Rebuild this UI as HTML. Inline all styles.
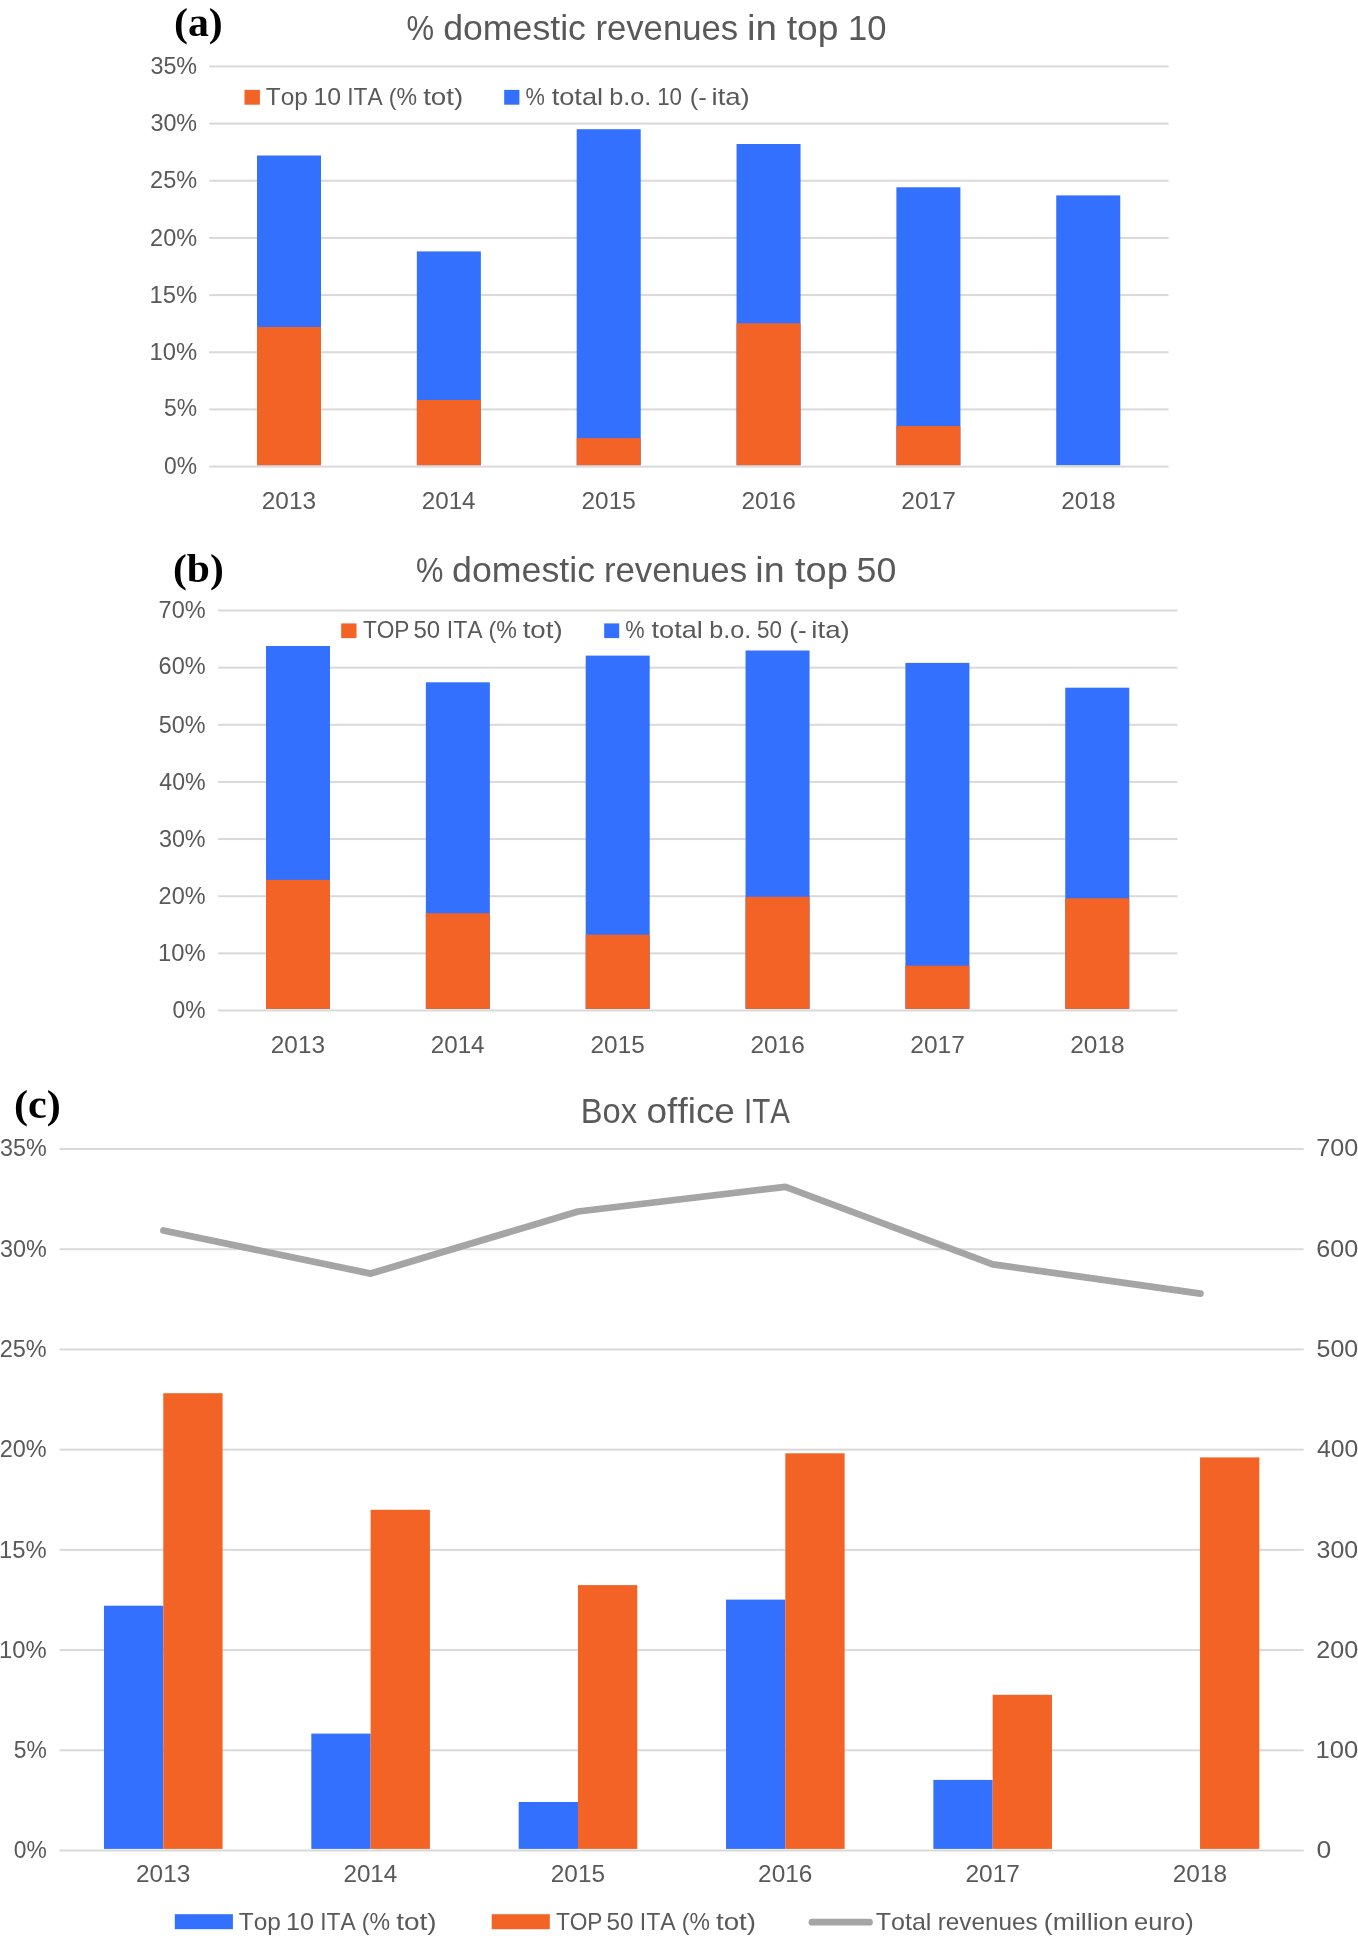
<!DOCTYPE html>
<html><head><meta charset="utf-8"><title>Box office charts</title>
<style>html,body{margin:0;padding:0;background:#fff;}svg{display:block;will-change:transform;}text{font-kerning:none;}</style>
</head><body>
<svg width="1358" height="1938" viewBox="0 0 1358 1938">
<rect width="1358" height="1938" fill="#fff"/>
<rect x="209.10" y="465.60" width="959.50" height="2" fill="#D9D9D9"/>
<text x="164.11" y="473.70" font-family='"Liberation Sans", sans-serif' font-size="24" fill="#595959" textLength="33.01" lengthAdjust="spacingAndGlyphs">0%</text>
<rect x="209.10" y="408.43" width="959.50" height="2" fill="#D9D9D9"/>
<text x="164.08" y="416.30" font-family='"Liberation Sans", sans-serif' font-size="24" fill="#595959" textLength="33.03" lengthAdjust="spacingAndGlyphs">5%</text>
<rect x="209.10" y="351.26" width="959.50" height="2" fill="#D9D9D9"/>
<text x="149.49" y="359.60" font-family='"Liberation Sans", sans-serif' font-size="24" fill="#595959" textLength="47.66" lengthAdjust="spacingAndGlyphs">10%</text>
<rect x="209.10" y="294.09" width="959.50" height="2" fill="#D9D9D9"/>
<text x="149.49" y="302.80" font-family='"Liberation Sans", sans-serif' font-size="24" fill="#595959" textLength="47.66" lengthAdjust="spacingAndGlyphs">15%</text>
<rect x="209.10" y="236.91" width="959.50" height="2" fill="#D9D9D9"/>
<text x="150.12" y="245.60" font-family='"Liberation Sans", sans-serif' font-size="24" fill="#595959" textLength="47.02" lengthAdjust="spacingAndGlyphs">20%</text>
<rect x="209.10" y="179.74" width="959.50" height="2" fill="#D9D9D9"/>
<text x="150.12" y="187.80" font-family='"Liberation Sans", sans-serif' font-size="24" fill="#595959" textLength="47.02" lengthAdjust="spacingAndGlyphs">25%</text>
<rect x="209.10" y="122.57" width="959.50" height="2" fill="#D9D9D9"/>
<text x="150.41" y="130.75" font-family='"Liberation Sans", sans-serif' font-size="24" fill="#595959" textLength="46.72" lengthAdjust="spacingAndGlyphs">30%</text>
<rect x="209.10" y="65.40" width="959.50" height="2" fill="#D9D9D9"/>
<text x="150.41" y="73.70" font-family='"Liberation Sans", sans-serif' font-size="24" fill="#595959" textLength="46.72" lengthAdjust="spacingAndGlyphs">35%</text>
<rect x="257.00" y="155.50" width="64.00" height="309.70" fill="#3370FD"/>
<rect x="257.00" y="327.00" width="64.00" height="138.20" fill="#F36326"/>
<text x="261.77" y="509.00" font-family='"Liberation Sans", sans-serif' font-size="24" fill="#595959" textLength="54.30" lengthAdjust="spacingAndGlyphs">2013</text>
<rect x="416.85" y="251.40" width="64.00" height="213.80" fill="#3370FD"/>
<rect x="416.85" y="400.00" width="64.00" height="65.20" fill="#F36326"/>
<text x="421.68" y="509.00" font-family='"Liberation Sans", sans-serif' font-size="24" fill="#595959" textLength="53.93" lengthAdjust="spacingAndGlyphs">2014</text>
<rect x="576.70" y="129.20" width="64.00" height="336.00" fill="#3370FD"/>
<rect x="576.70" y="438.10" width="64.00" height="27.10" fill="#F36326"/>
<text x="581.57" y="509.00" font-family='"Liberation Sans", sans-serif' font-size="24" fill="#595959" textLength="54.25" lengthAdjust="spacingAndGlyphs">2015</text>
<rect x="736.55" y="144.00" width="64.00" height="321.20" fill="#3370FD"/>
<rect x="736.55" y="323.30" width="64.00" height="141.90" fill="#F36326"/>
<text x="741.47" y="509.00" font-family='"Liberation Sans", sans-serif' font-size="24" fill="#595959" textLength="54.30" lengthAdjust="spacingAndGlyphs">2016</text>
<rect x="896.40" y="187.30" width="64.00" height="277.90" fill="#3370FD"/>
<rect x="896.40" y="426.00" width="64.00" height="39.20" fill="#F36326"/>
<text x="901.37" y="509.00" font-family='"Liberation Sans", sans-serif' font-size="24" fill="#595959" textLength="54.46" lengthAdjust="spacingAndGlyphs">2017</text>
<rect x="1056.25" y="195.40" width="64.00" height="269.80" fill="#3370FD"/>
<text x="1061.27" y="509.00" font-family='"Liberation Sans", sans-serif' font-size="24" fill="#595959" textLength="54.29" lengthAdjust="spacingAndGlyphs">2018</text>
<text x="173.96" y="36.00" font-family='"Liberation Serif", serif' font-weight="bold" font-size="40" fill="#000" textLength="48.78" lengthAdjust="spacingAndGlyphs">(a)</text>
<text x="406.59" y="39.80" font-family='"Liberation Sans", sans-serif' font-size="35.5" fill="#595959" textLength="27.61" lengthAdjust="spacingAndGlyphs">%</text>
<text x="443.20" y="39.80" font-family='"Liberation Sans", sans-serif' font-size="35.5" fill="#595959" textLength="142.74" lengthAdjust="spacingAndGlyphs">domestic</text>
<text x="595.40" y="39.80" font-family='"Liberation Sans", sans-serif' font-size="35.5" fill="#595959" textLength="142.76" lengthAdjust="spacingAndGlyphs">revenues</text>
<text x="746.92" y="39.80" font-family='"Liberation Sans", sans-serif' font-size="35.5" fill="#595959" textLength="29.98" lengthAdjust="spacingAndGlyphs">in</text>
<text x="786.74" y="39.80" font-family='"Liberation Sans", sans-serif' font-size="35.5" fill="#595959" textLength="51.83" lengthAdjust="spacingAndGlyphs">top</text>
<text x="848.06" y="39.80" font-family='"Liberation Sans", sans-serif' font-size="35.5" fill="#595959" textLength="38.49" lengthAdjust="spacingAndGlyphs">10</text>
<rect x="244.50" y="89.90" width="15.40" height="14.80" fill="#F36326"/>
<text x="265.75" y="105.10" font-family='"Liberation Sans", sans-serif' font-size="24" fill="#595959" textLength="42.07" lengthAdjust="spacingAndGlyphs">Top</text>
<text x="313.41" y="105.10" font-family='"Liberation Sans", sans-serif' font-size="24" fill="#595959" textLength="27.67" lengthAdjust="spacingAndGlyphs">10</text>
<text x="347.30" y="105.10" font-family='"Liberation Sans", sans-serif' font-size="24" fill="#595959" textLength="35.34" lengthAdjust="spacingAndGlyphs">ITA</text>
<text x="388.87" y="105.10" font-family='"Liberation Sans", sans-serif' font-size="24" fill="#595959" textLength="28.26" lengthAdjust="spacingAndGlyphs">(%</text>
<text x="423.18" y="105.10" font-family='"Liberation Sans", sans-serif' font-size="24" fill="#595959" textLength="40.04" lengthAdjust="spacingAndGlyphs">tot)</text>
<rect x="504.20" y="89.90" width="15.20" height="14.80" fill="#3370FD"/>
<text x="525.42" y="105.10" font-family='"Liberation Sans", sans-serif' font-size="24" fill="#595959" textLength="19.35" lengthAdjust="spacingAndGlyphs">%</text>
<text x="551.69" y="105.10" font-family='"Liberation Sans", sans-serif' font-size="24" fill="#595959" textLength="51.43" lengthAdjust="spacingAndGlyphs">total</text>
<text x="609.28" y="105.10" font-family='"Liberation Sans", sans-serif' font-size="24" fill="#595959" textLength="42.02" lengthAdjust="spacingAndGlyphs">b.o.</text>
<text x="657.20" y="105.10" font-family='"Liberation Sans", sans-serif' font-size="24" fill="#595959" textLength="24.88" lengthAdjust="spacingAndGlyphs">10</text>
<text x="689.80" y="105.10" font-family='"Liberation Sans", sans-serif' font-size="24" fill="#595959" textLength="17.14" lengthAdjust="spacingAndGlyphs">(-</text>
<text x="711.56" y="105.10" font-family='"Liberation Sans", sans-serif' font-size="24" fill="#595959" textLength="38.25" lengthAdjust="spacingAndGlyphs">ita)</text>
<rect x="218.10" y="1009.50" width="959.30" height="2" fill="#D9D9D9"/>
<text x="172.61" y="1017.60" font-family='"Liberation Sans", sans-serif' font-size="24" fill="#595959" textLength="33.01" lengthAdjust="spacingAndGlyphs">0%</text>
<rect x="218.10" y="952.36" width="959.30" height="2" fill="#D9D9D9"/>
<text x="157.99" y="960.60" font-family='"Liberation Sans", sans-serif' font-size="24" fill="#595959" textLength="47.66" lengthAdjust="spacingAndGlyphs">10%</text>
<rect x="218.10" y="895.21" width="959.30" height="2" fill="#D9D9D9"/>
<text x="158.62" y="903.50" font-family='"Liberation Sans", sans-serif' font-size="24" fill="#595959" textLength="47.02" lengthAdjust="spacingAndGlyphs">20%</text>
<rect x="218.10" y="838.07" width="959.30" height="2" fill="#D9D9D9"/>
<text x="158.91" y="846.50" font-family='"Liberation Sans", sans-serif' font-size="24" fill="#595959" textLength="46.72" lengthAdjust="spacingAndGlyphs">30%</text>
<rect x="218.10" y="780.93" width="959.30" height="2" fill="#D9D9D9"/>
<text x="159.27" y="789.50" font-family='"Liberation Sans", sans-serif' font-size="24" fill="#595959" textLength="46.36" lengthAdjust="spacingAndGlyphs">40%</text>
<rect x="218.10" y="723.79" width="959.30" height="2" fill="#D9D9D9"/>
<text x="158.86" y="732.70" font-family='"Liberation Sans", sans-serif' font-size="24" fill="#595959" textLength="46.77" lengthAdjust="spacingAndGlyphs">50%</text>
<rect x="218.10" y="666.64" width="959.30" height="2" fill="#D9D9D9"/>
<text x="158.61" y="674.45" font-family='"Liberation Sans", sans-serif' font-size="24" fill="#595959" textLength="47.03" lengthAdjust="spacingAndGlyphs">60%</text>
<rect x="218.10" y="609.50" width="959.30" height="2" fill="#D9D9D9"/>
<text x="158.59" y="617.60" font-family='"Liberation Sans", sans-serif' font-size="24" fill="#595959" textLength="47.04" lengthAdjust="spacingAndGlyphs">70%</text>
<rect x="266.00" y="646.00" width="64.00" height="362.90" fill="#3370FD"/>
<rect x="266.00" y="879.90" width="64.00" height="129.00" fill="#F36326"/>
<text x="270.77" y="1053.00" font-family='"Liberation Sans", sans-serif' font-size="24" fill="#595959" textLength="54.30" lengthAdjust="spacingAndGlyphs">2013</text>
<rect x="425.85" y="682.30" width="64.00" height="326.60" fill="#3370FD"/>
<rect x="425.85" y="913.20" width="64.00" height="95.70" fill="#F36326"/>
<text x="430.68" y="1053.00" font-family='"Liberation Sans", sans-serif' font-size="24" fill="#595959" textLength="53.93" lengthAdjust="spacingAndGlyphs">2014</text>
<rect x="585.70" y="655.60" width="64.00" height="353.30" fill="#3370FD"/>
<rect x="585.70" y="934.70" width="64.00" height="74.20" fill="#F36326"/>
<text x="590.57" y="1053.00" font-family='"Liberation Sans", sans-serif' font-size="24" fill="#595959" textLength="54.25" lengthAdjust="spacingAndGlyphs">2015</text>
<rect x="745.55" y="650.50" width="64.00" height="358.40" fill="#3370FD"/>
<rect x="745.55" y="896.80" width="64.00" height="112.10" fill="#F36326"/>
<text x="750.47" y="1053.00" font-family='"Liberation Sans", sans-serif' font-size="24" fill="#595959" textLength="54.30" lengthAdjust="spacingAndGlyphs">2016</text>
<rect x="905.40" y="662.90" width="64.00" height="346.00" fill="#3370FD"/>
<rect x="905.40" y="965.70" width="64.00" height="43.20" fill="#F36326"/>
<text x="910.37" y="1053.00" font-family='"Liberation Sans", sans-serif' font-size="24" fill="#595959" textLength="54.46" lengthAdjust="spacingAndGlyphs">2017</text>
<rect x="1065.25" y="687.70" width="64.00" height="321.20" fill="#3370FD"/>
<rect x="1065.25" y="898.30" width="64.00" height="110.60" fill="#F36326"/>
<text x="1070.27" y="1053.00" font-family='"Liberation Sans", sans-serif' font-size="24" fill="#595959" textLength="54.29" lengthAdjust="spacingAndGlyphs">2018</text>
<text x="172.97" y="582.00" font-family='"Liberation Serif", serif' font-weight="bold" font-size="40" fill="#000" textLength="50.86" lengthAdjust="spacingAndGlyphs">(b)</text>
<text x="415.90" y="582.00" font-family='"Liberation Sans", sans-serif' font-size="35.5" fill="#595959" textLength="27.40" lengthAdjust="spacingAndGlyphs">%</text>
<text x="452.10" y="582.00" font-family='"Liberation Sans", sans-serif' font-size="35.5" fill="#595959" textLength="142.94" lengthAdjust="spacingAndGlyphs">domestic</text>
<text x="603.89" y="582.00" font-family='"Liberation Sans", sans-serif' font-size="35.5" fill="#595959" textLength="143.17" lengthAdjust="spacingAndGlyphs">revenues</text>
<text x="755.39" y="582.00" font-family='"Liberation Sans", sans-serif' font-size="35.5" fill="#595959" textLength="29.26" lengthAdjust="spacingAndGlyphs">in</text>
<text x="794.92" y="582.00" font-family='"Liberation Sans", sans-serif' font-size="35.5" fill="#595959" textLength="52.98" lengthAdjust="spacingAndGlyphs">top</text>
<text x="856.57" y="582.00" font-family='"Liberation Sans", sans-serif' font-size="35.5" fill="#595959" textLength="39.73" lengthAdjust="spacingAndGlyphs">50</text>
<rect x="341.20" y="623.40" width="15.30" height="14.70" fill="#F36326"/>
<text x="362.89" y="638.20" font-family='"Liberation Sans", sans-serif' font-size="24" fill="#595959" textLength="46.60" lengthAdjust="spacingAndGlyphs">TOP</text>
<text x="413.44" y="638.20" font-family='"Liberation Sans", sans-serif' font-size="24" fill="#595959" textLength="26.70" lengthAdjust="spacingAndGlyphs">50</text>
<text x="446.78" y="638.20" font-family='"Liberation Sans", sans-serif' font-size="24" fill="#595959" textLength="35.77" lengthAdjust="spacingAndGlyphs">ITA</text>
<text x="488.46" y="638.20" font-family='"Liberation Sans", sans-serif' font-size="24" fill="#595959" textLength="28.37" lengthAdjust="spacingAndGlyphs">(%</text>
<text x="522.68" y="638.20" font-family='"Liberation Sans", sans-serif' font-size="24" fill="#595959" textLength="39.93" lengthAdjust="spacingAndGlyphs">tot)</text>
<rect x="604.20" y="623.40" width="15.00" height="14.70" fill="#3370FD"/>
<text x="625.32" y="638.20" font-family='"Liberation Sans", sans-serif' font-size="24" fill="#595959" textLength="19.35" lengthAdjust="spacingAndGlyphs">%</text>
<text x="651.59" y="638.20" font-family='"Liberation Sans", sans-serif' font-size="24" fill="#595959" textLength="51.12" lengthAdjust="spacingAndGlyphs">total</text>
<text x="709.18" y="638.20" font-family='"Liberation Sans", sans-serif' font-size="24" fill="#595959" textLength="42.02" lengthAdjust="spacingAndGlyphs">b.o.</text>
<text x="757.00" y="638.20" font-family='"Liberation Sans", sans-serif' font-size="24" fill="#595959" textLength="24.98" lengthAdjust="spacingAndGlyphs">50</text>
<text x="789.27" y="638.20" font-family='"Liberation Sans", sans-serif' font-size="24" fill="#595959" textLength="17.50" lengthAdjust="spacingAndGlyphs">(-</text>
<text x="811.35" y="638.20" font-family='"Liberation Sans", sans-serif' font-size="24" fill="#595959" textLength="38.36" lengthAdjust="spacingAndGlyphs">ita)</text>
<rect x="59.60" y="1849.50" width="1244.10" height="2" fill="#D9D9D9"/>
<text x="13.71" y="1857.70" font-family='"Liberation Sans", sans-serif' font-size="24" fill="#595959" textLength="33.01" lengthAdjust="spacingAndGlyphs">0%</text>
<text x="1316.46" y="1857.70" font-family='"Liberation Sans", sans-serif' font-size="24" fill="#595959" textLength="14.78" lengthAdjust="spacingAndGlyphs">0</text>
<rect x="59.60" y="1749.29" width="1244.10" height="2" fill="#D9D9D9"/>
<text x="13.68" y="1757.80" font-family='"Liberation Sans", sans-serif' font-size="24" fill="#595959" textLength="33.03" lengthAdjust="spacingAndGlyphs">5%</text>
<text x="1315.55" y="1757.80" font-family='"Liberation Sans", sans-serif' font-size="24" fill="#595959" textLength="42.65" lengthAdjust="spacingAndGlyphs">100</text>
<rect x="59.60" y="1649.07" width="1244.10" height="2" fill="#D9D9D9"/>
<text x="-0.91" y="1657.80" font-family='"Liberation Sans", sans-serif' font-size="24" fill="#595959" textLength="47.66" lengthAdjust="spacingAndGlyphs">10%</text>
<text x="1316.24" y="1657.80" font-family='"Liberation Sans", sans-serif' font-size="24" fill="#595959" textLength="41.95" lengthAdjust="spacingAndGlyphs">200</text>
<rect x="59.60" y="1548.86" width="1244.10" height="2" fill="#D9D9D9"/>
<text x="-0.91" y="1557.80" font-family='"Liberation Sans", sans-serif' font-size="24" fill="#595959" textLength="47.66" lengthAdjust="spacingAndGlyphs">15%</text>
<text x="1316.55" y="1557.80" font-family='"Liberation Sans", sans-serif' font-size="24" fill="#595959" textLength="41.62" lengthAdjust="spacingAndGlyphs">300</text>
<rect x="59.60" y="1448.64" width="1244.10" height="2" fill="#D9D9D9"/>
<text x="-0.28" y="1456.70" font-family='"Liberation Sans", sans-serif' font-size="24" fill="#595959" textLength="47.02" lengthAdjust="spacingAndGlyphs">20%</text>
<text x="1316.93" y="1456.70" font-family='"Liberation Sans", sans-serif' font-size="24" fill="#595959" textLength="41.23" lengthAdjust="spacingAndGlyphs">400</text>
<rect x="59.60" y="1348.43" width="1244.10" height="2" fill="#D9D9D9"/>
<text x="-0.28" y="1356.70" font-family='"Liberation Sans", sans-serif' font-size="24" fill="#595959" textLength="47.02" lengthAdjust="spacingAndGlyphs">25%</text>
<text x="1316.50" y="1356.70" font-family='"Liberation Sans", sans-serif' font-size="24" fill="#595959" textLength="41.68" lengthAdjust="spacingAndGlyphs">500</text>
<rect x="59.60" y="1248.21" width="1244.10" height="2" fill="#D9D9D9"/>
<text x="0.01" y="1256.70" font-family='"Liberation Sans", sans-serif' font-size="24" fill="#595959" textLength="46.72" lengthAdjust="spacingAndGlyphs">30%</text>
<text x="1316.22" y="1256.70" font-family='"Liberation Sans", sans-serif' font-size="24" fill="#595959" textLength="41.96" lengthAdjust="spacingAndGlyphs">600</text>
<rect x="59.60" y="1148.00" width="1244.10" height="2" fill="#D9D9D9"/>
<text x="0.01" y="1155.60" font-family='"Liberation Sans", sans-serif' font-size="24" fill="#595959" textLength="46.72" lengthAdjust="spacingAndGlyphs">35%</text>
<text x="1316.21" y="1155.60" font-family='"Liberation Sans", sans-serif' font-size="24" fill="#595959" textLength="41.97" lengthAdjust="spacingAndGlyphs">700</text>
<rect x="103.98" y="1605.70" width="59.30" height="243.20" fill="#3370FD"/>
<rect x="163.28" y="1393.20" width="59.30" height="455.70" fill="#F36326"/>
<text x="136.05" y="1882.20" font-family='"Liberation Sans", sans-serif' font-size="24" fill="#595959" textLength="54.30" lengthAdjust="spacingAndGlyphs">2013</text>
<rect x="311.33" y="1733.60" width="59.30" height="115.30" fill="#3370FD"/>
<rect x="370.63" y="1509.80" width="59.30" height="339.10" fill="#F36326"/>
<text x="343.41" y="1882.20" font-family='"Liberation Sans", sans-serif' font-size="24" fill="#595959" textLength="53.93" lengthAdjust="spacingAndGlyphs">2014</text>
<rect x="518.68" y="1802.00" width="59.30" height="46.90" fill="#3370FD"/>
<rect x="577.98" y="1585.10" width="59.30" height="263.80" fill="#F36326"/>
<text x="550.75" y="1882.20" font-family='"Liberation Sans", sans-serif' font-size="24" fill="#595959" textLength="54.25" lengthAdjust="spacingAndGlyphs">2015</text>
<rect x="726.03" y="1599.60" width="59.30" height="249.30" fill="#3370FD"/>
<rect x="785.33" y="1453.30" width="59.30" height="395.60" fill="#F36326"/>
<text x="758.10" y="1882.20" font-family='"Liberation Sans", sans-serif' font-size="24" fill="#595959" textLength="54.30" lengthAdjust="spacingAndGlyphs">2016</text>
<rect x="933.38" y="1779.90" width="59.30" height="69.00" fill="#3370FD"/>
<rect x="992.68" y="1694.80" width="59.30" height="154.10" fill="#F36326"/>
<text x="965.44" y="1882.20" font-family='"Liberation Sans", sans-serif' font-size="24" fill="#595959" textLength="54.46" lengthAdjust="spacingAndGlyphs">2017</text>
<rect x="1200.03" y="1457.40" width="59.30" height="391.50" fill="#F36326"/>
<text x="1172.80" y="1882.20" font-family='"Liberation Sans", sans-serif' font-size="24" fill="#595959" textLength="54.29" lengthAdjust="spacingAndGlyphs">2018</text>
<polyline points="163.4,1230.5 370.8,1273.6 578.0,1211.5 785.4,1186.9 992.8,1264.3 1200.4,1293.6" fill="none" stroke="#A5A5A5" stroke-width="6.75" stroke-linecap="round" stroke-linejoin="round"/>
<text x="13.95" y="1118.00" font-family='"Liberation Serif", serif' font-weight="bold" font-size="40" fill="#000" textLength="46.81" lengthAdjust="spacingAndGlyphs">(c)</text>
<text x="580.72" y="1122.50" font-family='"Liberation Sans", sans-serif' font-size="35.3" fill="#595959" textLength="56.23" lengthAdjust="spacingAndGlyphs">Box</text>
<text x="646.55" y="1122.50" font-family='"Liberation Sans", sans-serif' font-size="35.3" fill="#595959" textLength="88.40" lengthAdjust="spacingAndGlyphs">office</text>
<text x="743.98" y="1122.50" font-family='"Liberation Sans", sans-serif' font-size="35.3" fill="#595959" textLength="45.88" lengthAdjust="spacingAndGlyphs">ITA</text>
<rect x="174.80" y="1914.20" width="58.10" height="15.00" fill="#3370FD"/>
<text x="238.75" y="1929.70" font-family='"Liberation Sans", sans-serif' font-size="24" fill="#595959" textLength="42.07" lengthAdjust="spacingAndGlyphs">Top</text>
<text x="286.08" y="1929.70" font-family='"Liberation Sans", sans-serif' font-size="24" fill="#595959" textLength="28.00" lengthAdjust="spacingAndGlyphs">10</text>
<text x="320.30" y="1929.70" font-family='"Liberation Sans", sans-serif' font-size="24" fill="#595959" textLength="35.34" lengthAdjust="spacingAndGlyphs">ITA</text>
<text x="361.87" y="1929.70" font-family='"Liberation Sans", sans-serif' font-size="24" fill="#595959" textLength="28.26" lengthAdjust="spacingAndGlyphs">(%</text>
<text x="396.18" y="1929.70" font-family='"Liberation Sans", sans-serif' font-size="24" fill="#595959" textLength="40.35" lengthAdjust="spacingAndGlyphs">tot)</text>
<rect x="491.70" y="1914.20" width="58.10" height="15.00" fill="#F36326"/>
<text x="555.89" y="1929.70" font-family='"Liberation Sans", sans-serif' font-size="24" fill="#595959" textLength="46.60" lengthAdjust="spacingAndGlyphs">TOP</text>
<text x="606.43" y="1929.70" font-family='"Liberation Sans", sans-serif' font-size="24" fill="#595959" textLength="27.02" lengthAdjust="spacingAndGlyphs">50</text>
<text x="639.78" y="1929.70" font-family='"Liberation Sans", sans-serif' font-size="24" fill="#595959" textLength="35.77" lengthAdjust="spacingAndGlyphs">ITA</text>
<text x="681.78" y="1929.70" font-family='"Liberation Sans", sans-serif' font-size="24" fill="#595959" textLength="28.04" lengthAdjust="spacingAndGlyphs">(%</text>
<text x="716.08" y="1929.70" font-family='"Liberation Sans", sans-serif' font-size="24" fill="#595959" textLength="39.93" lengthAdjust="spacingAndGlyphs">tot)</text>
<line x1="812" y1="1922.2" x2="869.5" y2="1922.2" stroke="#A5A5A5" stroke-width="6.75" stroke-linecap="round"/>
<text x="875.74" y="1929.70" font-family='"Liberation Sans", sans-serif' font-size="24" fill="#595959" textLength="55.64" lengthAdjust="spacingAndGlyphs">Total</text>
<text x="937.79" y="1929.70" font-family='"Liberation Sans", sans-serif' font-size="24" fill="#595959" textLength="99.89" lengthAdjust="spacingAndGlyphs">revenues</text>
<text x="1043.85" y="1929.70" font-family='"Liberation Sans", sans-serif' font-size="24" fill="#595959" textLength="84.38" lengthAdjust="spacingAndGlyphs">(million</text>
<text x="1134.12" y="1929.70" font-family='"Liberation Sans", sans-serif' font-size="24" fill="#595959" textLength="59.57" lengthAdjust="spacingAndGlyphs">euro)</text>
</svg>
</body></html>
